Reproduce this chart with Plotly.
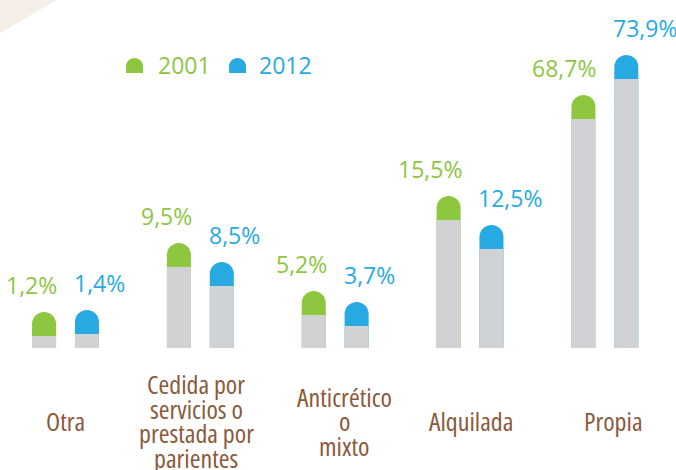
import plotly.graph_objects as go

# data
categories = ["Otra", "Cedida por servicios o prestada por parientes",
              "Anticrético o mixto", "Alquilada", "Propia"]
category_lines = [["Otra"],
                  ["Cedida por", "servicios o", "prestada por", "parientes"],
                  ["Anticrético", "o", "mixto"],
                  ["Alquilada"],
                  ["Propia"]]
series_names = ["2001", "2012"]
pct_2001 = [1.2, 9.5, 5.2, 15.5, 68.7]
pct_2012 = [1.4, 8.5, 3.7, 12.5, 73.9]
# bar heights as drawn in the infographic (not proportional to the %)
bar_2001 = [36, 105, 57, 152, 253]
bar_2012 = [38, 86, 46, 123, 293]

GREEN = "#8DC63F"
BLUE = "#27AAE1"
GRAY = "#D1D2D4"
BROWN = "#8C5A3A"
BEIGE = "#F4EEE7"

W, H = 676, 470
BASE_PX = 348          # bottom of plot area in pixels
CAP = 24               # height of the coloured rounded cap
OFF = 0.159            # bar offset from group centre
BAR_W = 0.178
X0 = -0.4858
X1 = X0 + W / 134.84


def fmt(v):
    return f"{v:.1f}".replace(".", ",") + "%"


def to_paper(xp, yp):
    return xp / W, (BASE_PX - yp) / BASE_PX


def cap_path(x0, y_top, w, h):
    # rounded-top cap in pixel coords -> paper coords
    r = w / 2
    k = 0.5523 * r
    yb = y_top + h
    ym = y_top + r
    pts = [
        ("M", [(x0, yb)]),
        ("L", [(x0, ym)]),
        ("C", [(x0, ym - k), (x0 + r - k, y_top), (x0 + r, y_top)]),
        ("C", [(x0 + r + k, y_top), (x0 + w, ym - k), (x0 + w, ym)]),
        ("L", [(x0 + w, yb)]),
    ]
    s = ""
    for cmd, ps in pts:
        s += cmd + " ".join("%.5f,%.5f" % to_paper(*p) for p in ps) + " "
    return s + "Z"


def narrow(t, pct):
    return '<span style="font-stretch:%d%%">%s</span>' % (pct, t)


n = len(categories)
x_pos = list(range(n))
x01 = [i - OFF for i in x_pos]
x12 = [i + OFF for i in x_pos]

fig = go.Figure()

for xs, hs, color, name in [(x01, bar_2001, GREEN, series_names[0]),
                            (x12, bar_2012, BLUE, series_names[1])]:
    # full coloured bar with rounded top, then gray body drawn over it
    fig.add_trace(go.Bar(
        x=xs, y=hs, width=BAR_W,
        marker=dict(color=color, line_width=0, cornerradius="50%"),
        name=name, showlegend=False
    ))
    fig.add_trace(go.Bar(
        x=xs, y=[h - CAP for h in hs], width=BAR_W,
        marker=dict(color=GRAY, line_width=0),
        showlegend=False, hoverinfo="skip"
    ))

# value labels: 2001 right aligned to bar, 2012 left aligned to bar
for xs, hs, vals, color, anchor, shift in [
        (x01, bar_2001, pct_2001, GREEN, "right", 3),
        (x12, bar_2012, pct_2012, BLUE, "left", -3)]:
    for x, h, v in zip(xs, hs, vals):
        edge = x + BAR_W / 2 if anchor == "right" else x - BAR_W / 2
        fig.add_annotation(
            x=edge, y=h, xref="x", yref="y", text=narrow(fmt(v), 94),
            showarrow=False, xanchor=anchor, yanchor="bottom",
            xshift=shift, yshift=9,
            font=dict(family="Open Sans", size=23, color=color)
        )

# category labels, one annotation per line
label_nudge = [0, -4, 9, 1, 9]
LINE = 24.5
for i, lines in enumerate(category_lines):
    m = len(lines)
    for k, line in enumerate(lines):
        yc = 421 + (k - (m - 1) / 2) * LINE
        fig.add_annotation(
            x=i, y=to_paper(0, yc)[1], xref="x", yref="paper",
            text=narrow(line, 72), showarrow=False,
            xanchor="center", yanchor="middle",
            xshift=label_nudge[i],
            font=dict(family="Open Sans", size=26, color=BROWN)
        )

# background corner shape
fig.add_shape(type="path", xref="paper", yref="paper", layer="below",
              path="M%.5f,%.5f L%.5f,%.5f L%.5f,%.5f Z" % (
                  *to_paper(0, -2), *to_paper(60, -2), *to_paper(0, 33)),
              fillcolor=BEIGE, line_width=0)

# legend
for icon_x, text_x, color, name in [(126, 156, GREEN, series_names[0]),
                                    (229, 257, BLUE, series_names[1])]:
    fig.add_shape(type="path", xref="paper", yref="paper",
                  path=cap_path(icon_x, 58, 17, 15),
                  fillcolor=color, line_width=0)
    fig.add_annotation(
        x=to_paper(text_x, 0)[0], y=to_paper(0, 65)[1], xref="paper", yref="paper",
        text=name, showarrow=False, xanchor="left", yanchor="middle",
        font=dict(family="Open Sans", size=23, color=color)
    )

fig.update_layout(
    width=W, height=H,
    margin=dict(l=0, r=0, t=0, b=H - BASE_PX, pad=0),
    barmode="overlay",
    plot_bgcolor="white", paper_bgcolor="white",
    xaxis=dict(range=[X0, X1], visible=False, fixedrange=True),
    yaxis=dict(range=[0, BASE_PX], visible=False, fixedrange=True),
    showlegend=False,
)

fig.write_html("out.html", config={"displayModeBar": False},
               post_script="document.body.style.margin='0';")
